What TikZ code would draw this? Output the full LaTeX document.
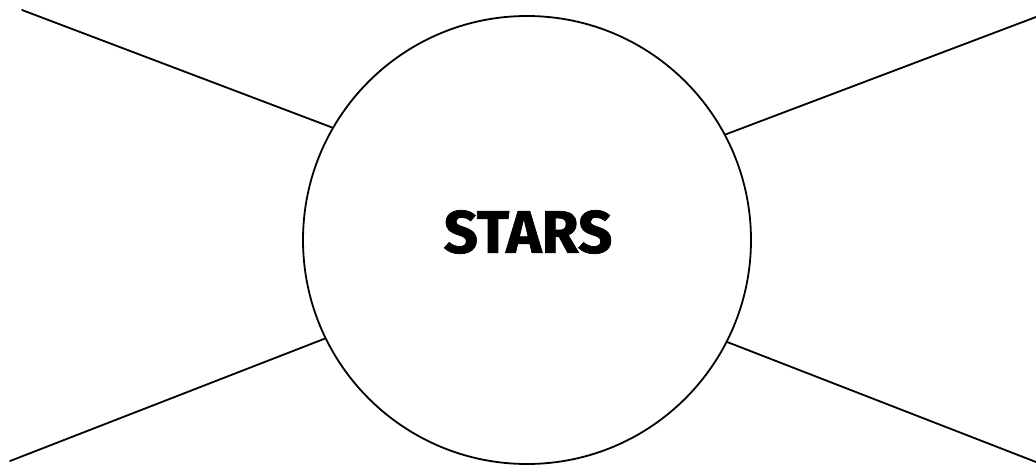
\documentclass[tikz,border=0pt]{standalone}
\usepackage{fontspec}
\setmainfont{Fira Sans}
\newfontfamily\starsfont[FakeBold=1.2]{Fira Sans Bold}
\begin{document}
\begin{tikzpicture}[x=1pt,y=-1pt,
  ln/.style={line width=1.8pt,line cap=round},
  hub/.style={circle,draw,line width=1.8pt,minimum size=448pt,inner sep=0pt}]
\useasboundingbox (0,0) rectangle (1036,466);
\fill[white] (0,0) rectangle (1036,466);
\node[hub] (c) at (527,240) {};
\node[font=\fontsize{60}{62}\selectfont\starsfont,inner sep=0pt] (t) at (528,232) {STARS};
\coordinate (tl) at (22,10);
\coordinate (tr) at (1036,17);
\coordinate (bl) at (10,461);
\coordinate (br) at (1036,462);
\draw[ln] (tl) -- (c.150);
\draw[ln] (tr) -- (c.28.6);
\draw[ln] (bl) -- (c.206.8);
\draw[ln] (br) -- (c.333);
\end{tikzpicture}
\end{document}
